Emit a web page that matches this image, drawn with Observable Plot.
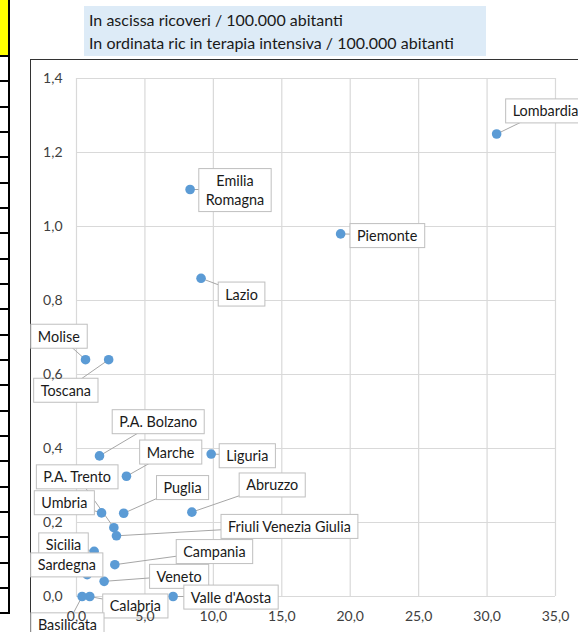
<!DOCTYPE html>
<html>
<head>
<meta charset="utf-8">
<script src="https://cdn.jsdelivr.net/npm/d3@7"></script>
<script src="https://cdn.jsdelivr.net/npm/@observablehq/plot@0.6"></script>
<style>
  html, body { margin: 0; padding: 0; background: #fff; }
  #page { position: relative; width: 578px; height: 632px; overflow: hidden; background: #fff; font-family: Lato, "Open Sans", sans-serif; }
  #yellow { position: absolute; left: 0; top: 0; width: 8px; height: 55px; background: #FFFF00; }
  #vline { position: absolute; left: 8px; top: 0; width: 2px; height: 614px; background: #000; }
  .hline { position: absolute; left: 0; width: 10px; height: 2px; background: #000; }
  #frame { position: absolute; left: 30px; top: 59px; width: 600px; height: 620px; border: 1.5px solid #333; box-sizing: border-box; }
  #title { position: absolute; left: 84px; top: 6px; width: 402px; height: 50px; background: #DDEBF7; color: #1a1a1a; font-size: 16px; line-height: 23px; padding: 2px 0 0 5px; box-sizing: border-box; }
  #chart { position: absolute; left: 0; top: 0; }
</style>
</head>
<body>
<div id="page">
  <div id="yellow"></div>
  <div id="vline"></div>
  <div id="frame"></div>
  <div id="title"></div>
  <div id="chart"></div>
</div>
<script>
// ---- data ----
const titleLines = [
  "In ascissa ricoveri / 100.000 abitanti",
  "In ordinata ric in terapia intensiva / 100.000 abitanti"
];
const regions = ["Lombardia","Piemonte","Emilia Romagna","Lazio","Molise","Toscana","P.A. Bolzano","Marche","Liguria","Puglia","Abruzzo","Umbria","P.A. Trento","Friuli Venezia Giulia","Sicilia","Sardegna","Campania","Veneto","Valle d'Aosta","Calabria","Basilicata"];
const ricoveri = [30.7,19.3,8.3,9.1,0.66,2.35,1.68,3.65,9.84,3.45,8.43,1.83,2.73,2.92,1.29,0.78,2.80,2.02,7.06,0.97,0.41];
const terapiaIntensiva = [1.25,0.98,1.10,0.86,0.64,0.64,0.38,0.325,0.385,0.225,0.228,0.226,0.186,0.164,0.122,0.059,0.086,0.041,0.0,0.0,0.0];
// data-label anchor positions (in data units)
const labelX = [34.27,22.70,11.58,12.06,-1.29,-0.78,5.97,6.87,12.48,7.75,14.30,-0.89,0.05,15.56,-0.95,-0.71,10.08,7.50,11.29,4.30,-0.66];
const labelY = [1.314,0.977,1.100,0.819,0.705,0.559,0.474,0.392,0.382,0.296,0.303,0.255,0.325,0.191,0.141,0.087,0.123,0.056,0.000,-0.024,-0.075];
const xTicks = [0,5,10,15,20,25,30,35];
const yTicks = [0,0.2,0.4,0.6,0.8,1.0,1.2,1.4];

// ---- decorations ----
document.getElementById("title").innerHTML = titleLines.map(t => `<div>${t}</div>`).join("");
const page = document.getElementById("page");
for (let k = 0; k <= 22; k++) {
  const d = document.createElement("div");
  d.className = "hline";
  d.style.top = (55 + k * 25.33) + "px";
  page.appendChild(d);
}

// ---- chart ----
const data = regions.map((name, i) => ({
  name, x: ricoveri[i], y: terapiaIntensiva[i], lx: labelX[i], ly: labelY[i]
}));
const fmt = d => d.toFixed(1).replace(".", ",");

const chart = Plot.plot({
  width: 578,
  height: 632,
  marginLeft: 76,
  marginRight: 23,
  marginTop: 78,
  marginBottom: 36,
  x: { domain: [0, 35], label: null },
  y: { domain: [0, 1.4], label: null },
  style: { fontFamily: "Lato, sans-serif", fontSize: "14px", color: "#404040", background: "transparent", overflow: "visible" },
  marks: [
    Plot.gridX(xTicks, { stroke: "#D9D9D9", strokeOpacity: 1, strokeWidth: 1.2 }),
    Plot.gridY(yTicks, { stroke: "#D9D9D9", strokeOpacity: 1, strokeWidth: 1.2 }),
    Plot.link(data, { x1: "x", y1: "y", x2: "lx", y2: "ly", stroke: "#A6A6A6", strokeWidth: 1 }),
    Plot.dot(data, { x: "x", y: "y", r: 4.8, fill: "#5B9BD5" }),
    Plot.text(data, {
      x: "lx", y: "ly",
      text: d => d.name.replace("Emilia ", "Emilia\n"),
      className: "callout",
      fill: "#1a1a1a",
      fontSize: 14.4,
      lineHeight: 1.32
    }),
    Plot.axisX(xTicks, { tickSize: 0, tickPadding: 15, tickFormat: fmt, fill: "#404040", fontSize: 14 }),
    Plot.axisY(yTicks, { tickSize: 0, tickPadding: 14, tickFormat: fmt, fill: "#404040", fontSize: 14 })
  ]
});
document.getElementById("chart").appendChild(chart);

// white callout boxes behind each label
const ns = "http://www.w3.org/2000/svg";
chart.querySelectorAll("g.callout text").forEach(t => {
  const b = t.getBBox();
  const padX = 7, padY = 3.5;
  const r = document.createElementNS(ns, "rect");
  r.setAttribute("x", b.x - padX);
  r.setAttribute("y", b.y - padY);
  r.setAttribute("width", b.width + 2 * padX);
  r.setAttribute("height", b.height + 2 * padY);
  r.setAttribute("fill", "#fff");
  r.setAttribute("stroke", "#BFBFBF");
  r.setAttribute("stroke-width", "1");
  const tr = t.getAttribute("transform");
  if (tr) r.setAttribute("transform", tr);
  t.parentNode.insertBefore(r, t);
});
</script>
</body>
</html>
